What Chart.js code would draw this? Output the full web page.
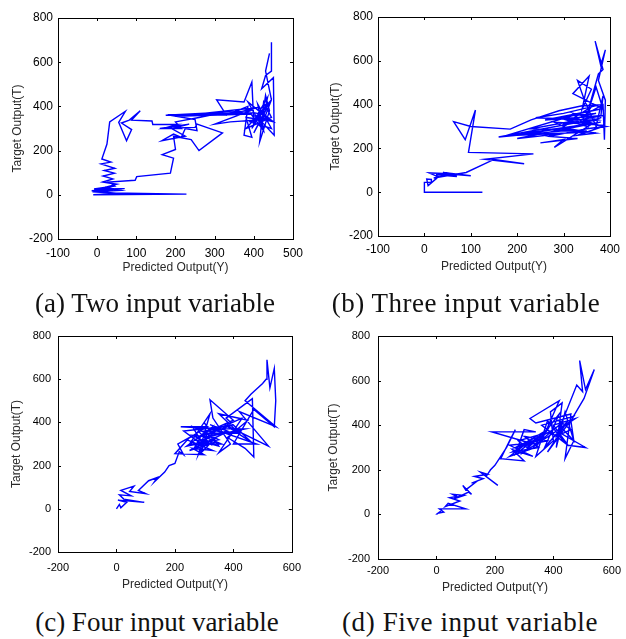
<!DOCTYPE html>
<html>
<head>
<meta charset="utf-8">
<script src="https://cdn.jsdelivr.net/npm/chart.js@4/dist/chart.umd.min.js"></script>
<style>
  html, body { margin:0; padding:0; background:#fff; }
  #wrap { position:relative; width:626px; height:639px; overflow:hidden; background:#fff; }
  canvas { position:absolute; }
  .cap { position:absolute; font-family:'Liberation Serif','Times New Roman',serif; font-size:27px; line-height:30px; color:#111; white-space:nowrap; text-align:center; width:320px; }
</style>
</head>
<body>
<div id="wrap">
  <canvas id="ca" width="310" height="290" style="left:0;top:0"></canvas>
  <canvas id="cb" width="316" height="290" style="left:310px;top:0"></canvas>
  <canvas id="cc" width="310" height="280" style="left:0;top:320px"></canvas>
  <canvas id="cd" width="316" height="280" style="left:310px;top:320px"></canvas>
  <div class="cap" id="capA" style="left:-5px;top:288px"></div>
  <div class="cap" id="capB" style="left:306px;top:288px;letter-spacing:0.5px"></div>
  <div class="cap" id="capC" style="left:-3px;top:607px"></div>
  <div class="cap" id="capD" style="left:310px;top:607px;letter-spacing:0.6px"></div>
</div>
<script>
// ---- data: each point is [Predicted Output(Y), Target Output(T)] ----
const captions = ["(a) Two input variable","(b) Three input variable","(c) Four input variable","(d) Five input variable"];
const xTitle = "Predicted Output(Y)";
const yTitle = "Target Output(T)";

const twoInput = [
[445,690],[445,560],[430,540],[420,480],[450,530],[452,270],[420,330],[430,450],[440,380],[415,240],[425,420],[445,350],[380,300],[440,420],[400,280],[430,380],[390,330],[445,300],[410,410],[425,290],[395,360],[440,340],[385,420],[420,310],[435,440],[405,350],[450,330],[415,380],[395,300],[430,400],[400,320],[395,510],[375,420],[305,430],[330,360],[385,400],[375,270],[395,260],[380,350],[420,340],[340,330],[300,320],[390,380],[175,360],[300,372],[240,365],[350,368],[410,395],[200,355],[395,365],[180,362],[250,340],[255,290],[225,300],[215,260],[195,275],[165,245],[225,265],[190,300],[235,320],[160,300],[250,305],[255,320],[320,280],[260,200],[240,250],[195,265],[200,205],[166,182],[195,166],[187,98],[101,82],[97,66],[30,58],[45,40],[-8,26],[70,28],[-14,18],[55,6],[-10,0],[228,3],[40,8],[-12,14],[60,20],[20,34],[50,48],[14,58],[40,72],[15,85],[44,98],[18,110],[45,120],[10,140],[35,148],[12,162],[25,230],[32,330],[72,378],[55,328],[75,245],[88,295],[62,325],[82,338],[110,380],[88,338],[140,334],[142,318],[205,318],[168,300],[215,300],[200,330],[260,350],[330,375],[360,370],[400,372],[430,360],[445,430],[430,560],[440,640]
];
const threeInput = [
[125,0],[0,0],[0,45],[15,45],[15,58],[5,60],[8,30],[30,70],[10,88],[55,85],[25,80],[70,72],[40,90],[100,75],[60,82],[20,65],[90,90],[150,150],[215,130],[130,150],[235,175],[95,182],[110,375],[88,240],[63,322],[100,300],[185,288],[230,330],[290,372],[340,395],[380,400],[300,360],[240,340],[360,330],[160,252],[300,280],[355,275],[200,260],[320,300],[360,310],[280,205],[300,240],[250,225],[330,245],[270,255],[350,290],[390,300],[310,330],[370,360],[320,350],[170,255],[380,320],[200,245],[350,280],[230,290],[385,350],[260,330],[380,380],[290,340],[350,300],[320,360],[375,330],[300,310],[360,390],[340,330],[385,300],[330,260],[370,270],[310,290],[380,340],[385,440],[370,300],[345,420],[330,510],[360,470],[340,380],[355,530],[320,450],[385,380],[370,480],[350,350],[375,540],[385,560],[368,690],[380,580],[390,650],[375,510],[390,420],[388,240],[385,400],[300,300],[280,320],[390,305]
];
const fourInput = [
[0,0],[10,20],[15,5],[35,30],[5,40],[95,30],[25,45],[10,65],[50,60],[15,85],[60,105],[45,80],[100,70],[75,85],[110,130],[140,145],[130,125],[165,170],[180,200],[200,210],[215,265],[230,250],[210,300],[250,330],[200,255],[300,250],[260,280],[330,270],[240,320],[310,380],[220,380],[350,370],[270,290],[290,340],[360,300],[250,300],[280,360],[320,300],[260,340],[340,330],[290,260],[310,350],[270,320],[350,290],[300,400],[330,340],[280,300],[360,380],[230,360],[300,290],[260,380],[350,320],[240,290],[330,380],[280,250],[320,440],[290,380],[370,350],[250,270],[340,310],[300,360],[400,390],[280,330],[430,420],[350,260],[390,300],[330,420],[320,505],[400,410],[300,350],[420,350],[350,440],[450,410],[380,330],[440,280],[470,240],[465,510],[375,420],[460,310],[370,390],[520,290],[420,450],[545,380],[440,500],[460,530],[500,580],[512,600],[515,690],[525,560],[540,650],[545,500],[540,380],[470,460],[400,300],[480,300],[330,370],[440,370],[300,330],[380,360],[320,390]
];
const fiveInput = [
[0,0],[20,20],[5,5],[25,10],[10,25],[100,25],[40,50],[30,35],[80,60],[45,75],[70,80],[55,90],[95,85],[60,70],[110,100],[120,90],[90,130],[100,110],[140,150],[120,140],[160,160],[130,170],[175,180],[150,190],[210,130],[170,170],[185,200],[200,220],[240,300],[270,380],[250,330],[220,250],[300,240],[260,290],[330,260],[250,310],[320,320],[190,370],[340,370],[300,380],[270,270],[350,350],[310,300],[280,330],[360,360],[300,280],[370,340],[290,310],[380,380],[340,300],[250,260],[330,340],[270,300],[380,330],[300,350],[350,300],[260,280],[400,380],[330,300],[420,450],[370,300],[450,420],[380,280],[470,440],[360,400],[440,320],[380,420],[340,260],[400,330],[390,460],[430,500],[410,300],[440,460],[470,330],[440,250],[460,450],[340,410],[320,430],[420,510],[360,330],[475,430],[400,400],[450,310],[510,300],[430,360],[420,420],[460,380],[410,350],[480,580],[500,550],[490,690],[510,560],[540,650],[505,520],[460,420],[470,330],[420,400],[380,360]
];

const xRanges = [[-100,500,100],[-100,400,100],[-200,600,200],[-200,600,200]];
const yRange = [-200,800,200];

['capA','capB','capC','capD'].forEach((id,i) => { document.getElementById(id).textContent = captions[i]; });

// ---- box with inward ticks (MATLAB style) ----
const boxPlugin = {
  id: 'box',
  afterDraw(chart) {
    const {ctx, chartArea: a, scales: {x, y}} = chart;
    ctx.save();
    ctx.strokeStyle = '#000';
    ctx.lineWidth = 1;
    ctx.strokeRect(Math.round(a.left)+0.5, Math.round(a.top)+0.5, Math.round(a.right-a.left), Math.round(a.bottom-a.top));
    const L = 3;
    ctx.beginPath();
    x.ticks.forEach(t => {
      const px = Math.round(x.getPixelForValue(t.value)) + 0.5;
      ctx.moveTo(px, a.bottom); ctx.lineTo(px, a.bottom - L);
      ctx.moveTo(px, a.top); ctx.lineTo(px, a.top + L);
    });
    y.ticks.forEach(t => {
      const py = Math.round(y.getPixelForValue(t.value)) + 0.5;
      ctx.moveTo(a.left, py); ctx.lineTo(a.left + L, py);
      ctx.moveTo(a.right, py); ctx.lineTo(a.right - L, py);
    });
    ctx.stroke();
    ctx.restore();
  }
};

function makeChart(id, pts, xr, cfg) {
  const data = pts.map(p => ({x: p[0], y: p[1]}));
  return new Chart(document.getElementById(id), {
    type: 'scatter',
    data: { datasets: [{ data, showLine: true, borderColor: '#0000ff', borderWidth: 1.4, pointRadius: 0, tension: 0, fill: false }] },
    options: {
      responsive: false, animation: false, devicePixelRatio: 1,
      layout: { padding: { left: 0, right: cfg.padR, top: cfg.padT, bottom: 0 } },
      plugins: { legend: { display: false }, tooltip: { enabled: false } },
      scales: {
        x: {
          type: 'linear', min: xr[0], max: xr[1],
          grid: { display: false, drawTicks: false }, border: { display: false },
          ticks: { stepSize: xr[2], padding: cfg.xTickPad, color: '#000', maxRotation: 0, autoSkip: false,
                   font: { family: 'Liberation Sans, Arial', size: cfg.tickSize } },
          title: { display: true, text: xTitle, color: '#2a2a2a', padding: { top: 0, bottom: cfg.xTitlePad },
                   font: { family: 'Liberation Sans, Arial', size: cfg.titleSize } },
          afterFit: s => { s.height = cfg.xH; }
        },
        y: {
          type: 'linear', min: yRange[0], max: yRange[1],
          grid: { display: false, drawTicks: false }, border: { display: false },
          ticks: { stepSize: yRange[2], padding: cfg.yTickPad, color: '#000', autoSkip: false,
                   font: { family: 'Liberation Sans, Arial', size: cfg.tickSize } },
          title: { display: true, text: yTitle, color: '#2a2a2a', padding: { top: cfg.yTitlePad, bottom: 0 },
                   font: { family: 'Liberation Sans, Arial', size: cfg.titleSize } },
          afterFit: s => { s.width = cfg.yW; }
        }
      }
    },
    plugins: [boxPlugin]
  });
}

makeChart('ca', twoInput, xRanges[0], { yW: 58, xH: 51, padR: 12, padT: 18, tickSize: 12, titleSize: 12, xTickPad: 7, yTickPad: 5, xTitlePad: 15, yTitlePad: 10 });
makeChart('cb', threeInput, xRanges[1], { yW: 68, xH: 54, padR: 12, padT: 17, tickSize: 12, titleSize: 12, xTickPad: 6, yTickPad: 5, xTitlePad: 16, yTitlePad: 18 });
makeChart('cc', fourInput, xRanges[2], { yW: 58, xH: 48, padR: 12, padT: 16, tickSize: 11, titleSize: 12, xTickPad: 9, yTickPad: 7, xTitlePad: 8, yTitlePad: 9 });
makeChart('cd', fiveInput, xRanges[3], { yW: 68, xH: 41, padR: 9, padT: 16, tickSize: 11, titleSize: 12, xTickPad: 5, yTickPad: 8, xTitlePad: 5, yTitlePad: 16 });
</script>
</body>
</html>
